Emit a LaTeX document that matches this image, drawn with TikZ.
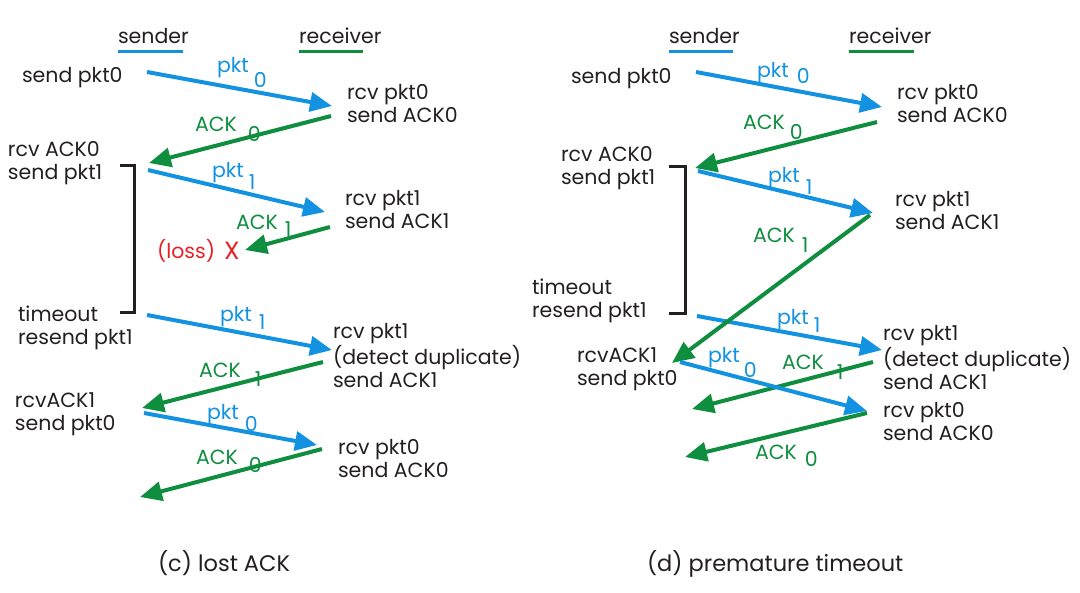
\documentclass[tikz,border=0pt]{standalone}
\usepackage{fontspec}
\setmainfont{Poppins}
\usetikzlibrary{arrows.meta}
\definecolor{pblue}{RGB}{18,146,224}
\definecolor{agreen}{RGB}{14,142,62}
\definecolor{lossred}{RGB}{230,32,38}
\definecolor{ink}{RGB}{35,31,32}
\newcommand\evt[1]{\begin{tabular}[t]{@{}l@{}}#1\end{tabular}}
\begin{document}
\begin{tikzpicture}[x=1pt,y=-1pt,
  every node/.style={inner sep=0pt,outer sep=0pt,anchor=base west,font=\fontsize{20.5}{22.5}\selectfont},
  evtext/.style={text=ink},
  captext/.style={text=ink,font=\fontsize{22.5}{24}\selectfont},
  pktlab/.style={text=pblue},
  acklab/.style={text=agreen},
  losstext/.style={text=lossred},
  pktarrow/.style={draw=pblue,line width=4pt,-{Triangle[length=22pt,width=19pt]}},
  ackarrow/.style={draw=agreen,line width=4pt,-{Triangle[length=22pt,width=19pt]}},
  timerbracket/.style={draw=ink,line width=3pt},
  sline/.style={draw=pblue,line width=3pt},
  rline/.style={draw=agreen,line width=3pt}]
\useasboundingbox (0,0) rectangle (1080,593);
\renewcommand\arraystretch{1}
% ================= left panel (c) =================
\node[evtext] (ls) at (118,44) {sender};
\node[evtext] (lr) at (299,44) {receiver};
\draw[sline] (118,52) -- (183,52);
\draw[rline] (299,52) -- (363,52);

\node[evtext] (le1) at (22,83) {\evt{send pkt0}};
\node[evtext] (le2) at (347,100) {\evt{rcv pkt0\\send ACK0}};
\node[evtext] (le3) at (8,157) {\evt{rcv ACK0\\send pkt1}};
\node[evtext] (le4) at (345,206) {\evt{rcv pkt1\\send ACK1}};
\node[losstext] (lloss) at (157,259) {(loss)};
\node[losstext,font=\fontsize{25}{25}\selectfont] (lx) at (224,260) {X};
\node[evtext] (le5) at (18,322) {\evt{timeout\\resend pkt1}};
\node[evtext] (le6) at (333,339) {\evt{rcv pkt1\\(detect duplicate)\\send ACK1}};
\node[evtext] (le7) at (15,408) {\evt{rcvACK1\\send pkt0}};
\node[evtext] (le8) at (338,455) {\evt{rcv pkt0\\send ACK0}};
\node[captext] (lcap) at (158,572) {(c) lost ACK};

\coordinate (la1s) at (147,72);  \coordinate (la1e) at (332,106);
\coordinate (la2s) at (331,116); \coordinate (la2e) at (149,163);
\coordinate (la3s) at (148,170); \coordinate (la3e) at (325,212);
\coordinate (la4s) at (330,227); \coordinate (la4e) at (245,250);
\coordinate (la5s) at (147,315); \coordinate (la5e) at (332,350);
\coordinate (la6s) at (323,362); \coordinate (la6e) at (142,408);
\coordinate (la7s) at (144,413); \coordinate (la7e) at (317,445);
\coordinate (la8s) at (322,449); \coordinate (la8e) at (140,497);
\draw[pktarrow] (la1s) -- (la1e);
\draw[ackarrow] (la2s) -- (la2e);
\draw[pktarrow] (la3s) -- (la3e);
\draw[ackarrow] (la4s) -- (la4e);
\draw[pktarrow] (la5s) -- (la5e);
\draw[ackarrow] (la6s) -- (la6e);
\draw[pktarrow] (la7s) -- (la7e);
\draw[ackarrow] (la8s) -- (la8e);

\coordinate (lb1) at (120,166); \coordinate (lb2) at (134,166);
\coordinate (lb3) at (134,313); \coordinate (lb4) at (120,313);
\draw[timerbracket] (lb1) -- (lb2) -- (lb3) -- (lb4);

\node[pktlab] (lp1) at (217,73) {pkt\hspace{5pt}\raisebox{-15pt}{0}};
\node[acklab] (lk1) at (195,132) {ACK\hspace{11pt}\raisebox{-10pt}{0}};
\node[pktlab] (lp2) at (212,178) {pkt\hspace{5pt}\raisebox{-12pt}{1}};
\node[acklab] (lk2) at (236,230) {ACK\hspace{7pt}\raisebox{-7pt}{1}};
\node[pktlab] (lp3) at (220,322) {pkt\hspace{7pt}\raisebox{-8pt}{1}};
\node[acklab] (lk3) at (199,378) {ACK\hspace{14pt}\raisebox{-9pt}{1}};
\node[pktlab] (lp4) at (207,420) {pkt\hspace{6pt}\raisebox{-12pt}{0}};
\node[acklab] (lk4) at (196,465) {ACK\hspace{11pt}\raisebox{-8pt}{0}};

% ================= right panel (d) =================
\node[evtext] (rs) at (669,44) {sender};
\node[evtext] (rr) at (849,44) {receiver};
\draw[sline] (669,52) -- (733,52);
\draw[rline] (849,52) -- (914,52);

\node[evtext] (re1) at (571,84) {\evt{send pkt0}};
\node[evtext] (re2) at (897,100) {\evt{rcv pkt0\\send ACK0}};
\node[evtext] (re3) at (561,162) {\evt{rcv ACK0\\send pkt1}};
\node[evtext] (re4) at (895,207) {\evt{rcv pkt1\\send ACK1}};
\node[evtext] (re5) at (532,295) {\evt{timeout\\resend pkt1}};
\node[evtext] (re6) at (883,341) {\evt{rcv pkt1\\(detect duplicate)\\send ACK1}};
\node[evtext] (re7) at (577,363) {\evt{rcvACK1\\send pkt0}};
\node[evtext] (re8) at (883,418) {\evt{rcv pkt0\\send ACK0}};
\node[captext] (rcap) at (647,572) {(d) premature timeout};

\coordinate (ra1s) at (696,72);  \coordinate (ra1e) at (882,107);
\coordinate (ra2s) at (877,122); \coordinate (ra2e) at (695,168);
\coordinate (ra3s) at (698,171); \coordinate (ra3e) at (873,213);
\coordinate (ra4s) at (870,215); \coordinate (ra4e) at (672,363);
\coordinate (ra5s) at (697,316); \coordinate (ra5e) at (882,350);
\coordinate (ra6s) at (680,362); \coordinate (ra6e) at (867,411);
\coordinate (ra7s) at (873,362); \coordinate (ra7e) at (692,409);
\coordinate (ra8s) at (867,413); \coordinate (ra8e) at (685,457);
\draw[pktarrow] (ra1s) -- (ra1e);
\draw[ackarrow] (ra2s) -- (ra2e);
\draw[pktarrow] (ra3s) -- (ra3e);
\draw[pktarrow] (ra5s) -- (ra5e);
\draw[ackarrow] (ra4s) -- (ra4e);
\draw[ackarrow] (ra7s) -- (ra7e);
\draw[pktarrow] (ra6s) -- (ra6e);
\draw[ackarrow] (ra8s) -- (ra8e);

\coordinate (rb1) at (669,167); \coordinate (rb2) at (685,167);
\coordinate (rb3) at (685,314); \coordinate (rb4) at (669,314);
\draw[timerbracket] (rb1) -- (rb2) -- (rb3) -- (rb4);

\node[pktlab] (rp1) at (757,78) {pkt\hspace{8pt}\raisebox{-6pt}{0}};
\node[acklab] (rk1) at (743,130) {ACK\hspace{5pt}\raisebox{-10pt}{0}};
\node[pktlab] (rp2) at (768,183) {pkt\hspace{6pt}\raisebox{-12pt}{1}};
\node[acklab] (rk2) at (753,243) {ACK\hspace{7pt}\raisebox{-10pt}{1}};
\node[pktlab] (rp3) at (777,325) {pkt\hspace{5pt}\raisebox{-8pt}{1}};
\node[pktlab] (rp4) at (708,363) {pkt\hspace{4pt}\raisebox{-15pt}{0}};
\node[acklab] (rk3) at (782,370) {ACK\hspace{13pt}\raisebox{-10pt}{1}};
\node[acklab] (rk4) at (755,460) {ACK\hspace{8pt}\raisebox{-7pt}{0}};
\end{tikzpicture}
\end{document}
